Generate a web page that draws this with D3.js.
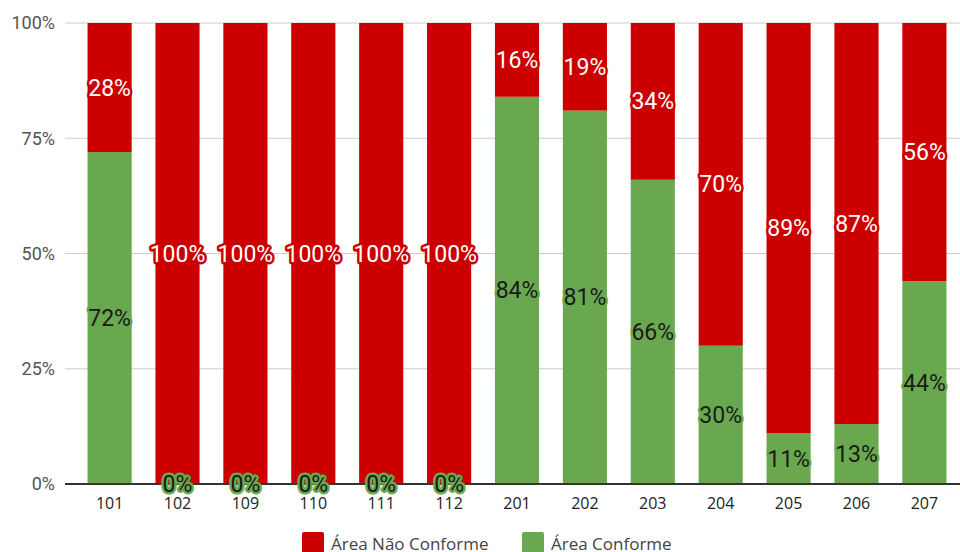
<!DOCTYPE html>
<html>
<head>
<meta charset="utf-8">
<style>
  body { margin: 0; background: #fff; }
  svg { display: block; font-family: Roboto, "Open Sans", sans-serif; }
</style>
</head>
<body>
<div id="chart"></div>
<script src="https://d3js.org/d3.v7.min.js"></script>
<script>
const categories = ["101", "102", "109", "110", "111", "112", "201", "202", "203", "204", "205", "206", "207"];
const conforme = [72, 0, 0, 0, 0, 0, 84, 81, 66, 30, 11, 13, 44];
const naoConforme = [28, 100, 100, 100, 100, 100, 16, 19, 34, 70, 89, 87, 56];
const yTicks = [0, 25, 50, 75, 100];
const seriesNames = ["Área Não Conforme", "Área Conforme"];
const colors = ["#cc0000", "#6aa84f"];

const width = 960, height = 552;
const margin = { top: 23, right: 0, bottom: 68, left: 65 };

const svg = d3.select("#chart").append("svg")
    .attr("width", width)
    .attr("height", height);

const x = d3.scaleBand()
    .domain(categories)
    .range([76, 958])
    .paddingInner(0.35)
    .paddingOuter(0.17);

const y = d3.scaleLinear()
    .domain([0, 100])
    .range([height - margin.bottom, margin.top]);

// gridlines
svg.append("g")
    .selectAll("line")
    .data(yTicks.filter(d => d > 0))
    .join("line")
    .attr("x1", margin.left)
    .attr("x2", width)
    .attr("y1", d => y(d))
    .attr("y2", d => y(d))
    .attr("stroke", "#cccccc")
    .attr("stroke-width", 1);

// y tick labels
svg.append("g")
    .selectAll("text")
    .data(yTicks)
    .join("text")
    .attr("x", 55)
    .attr("y", d => y(d))
    .attr("dy", "0.35em")
    .attr("text-anchor", "end")
    .attr("fill", "#555")
    .attr("font-size", 18)
    .text(d => d + "%");

const rows = categories.map((c, i) => ({ cat: c, green: conforme[i], red: naoConforme[i] }));

// green (bottom) segments
svg.append("g")
    .selectAll("rect")
    .data(rows)
    .join("rect")
    .attr("x", d => x(d.cat))
    .attr("width", x.bandwidth())
    .attr("y", d => y(d.green))
    .attr("height", d => y(0) - y(d.green))
    .attr("fill", colors[1]);

// red (top) segments
svg.append("g")
    .selectAll("rect")
    .data(rows)
    .join("rect")
    .attr("x", d => x(d.cat))
    .attr("width", x.bandwidth())
    .attr("y", d => y(d.green + d.red))
    .attr("height", d => y(d.green) - y(d.green + d.red))
    .attr("fill", colors[0]);

// baseline
svg.append("line")
    .attr("x1", margin.left)
    .attr("x2", width)
    .attr("y1", y(0))
    .attr("y2", y(0))
    .attr("stroke", "#333")
    .attr("stroke-width", 2);

// x labels
svg.append("g")
    .selectAll("text")
    .data(categories)
    .join("text")
    .attr("x", d => x(d) + x.bandwidth() / 2)
    .attr("y", 503)
    .attr("dy", "0.35em")
    .attr("text-anchor", "middle")
    .attr("fill", "#222")
    .attr("font-family", "'Open Sans', sans-serif")
    .attr("font-size", 16)
    .text(d => d);

// data labels
const labels = svg.append("g").attr("font-size", 23).attr("text-anchor", "middle");

labels.selectAll("text.green")
    .data(rows)
    .join("text")
    .attr("class", "green")
    .attr("x", d => x(d.cat) + x.bandwidth() / 2)
    .attr("y", d => y(d.green / 2))
    .attr("dy", "0.35em")
    .attr("fill", "#1a1a1a")
    .attr("stroke", colors[1])
    .attr("stroke-width", 5)
    .attr("stroke-linejoin", "round")
    .attr("paint-order", "stroke")
    .text(d => d.green + "%");

labels.selectAll("text.red")
    .data(rows)
    .join("text")
    .attr("class", "red")
    .attr("x", d => x(d.cat) + x.bandwidth() / 2)
    .attr("y", d => y(d.green + d.red / 2))
    .attr("dy", "0.35em")
    .attr("fill", "#fff")
    .attr("stroke", colors[0])
    .attr("stroke-width", 5)
    .attr("stroke-linejoin", "round")
    .attr("paint-order", "stroke")
    .text(d => d.red + "%");

// legend
const legendX = [302, 522];
const legend = svg.append("g")
    .selectAll("g")
    .data(seriesNames)
    .join("g")
    .attr("transform", (d, i) => `translate(${legendX[i]},532)`);

legend.append("rect")
    .attr("width", 22)
    .attr("height", 22)
    .attr("rx", 2)
    .attr("fill", (d, i) => colors[i]);

legend.append("text")
    .attr("x", 29)
    .attr("y", 12)
    .attr("dy", "0.35em")
    .attr("fill", "#444")
    .attr("font-family", "'Open Sans', sans-serif")
    .attr("font-size", 17)
    .text(d => d);
</script>
</body>
</html>
